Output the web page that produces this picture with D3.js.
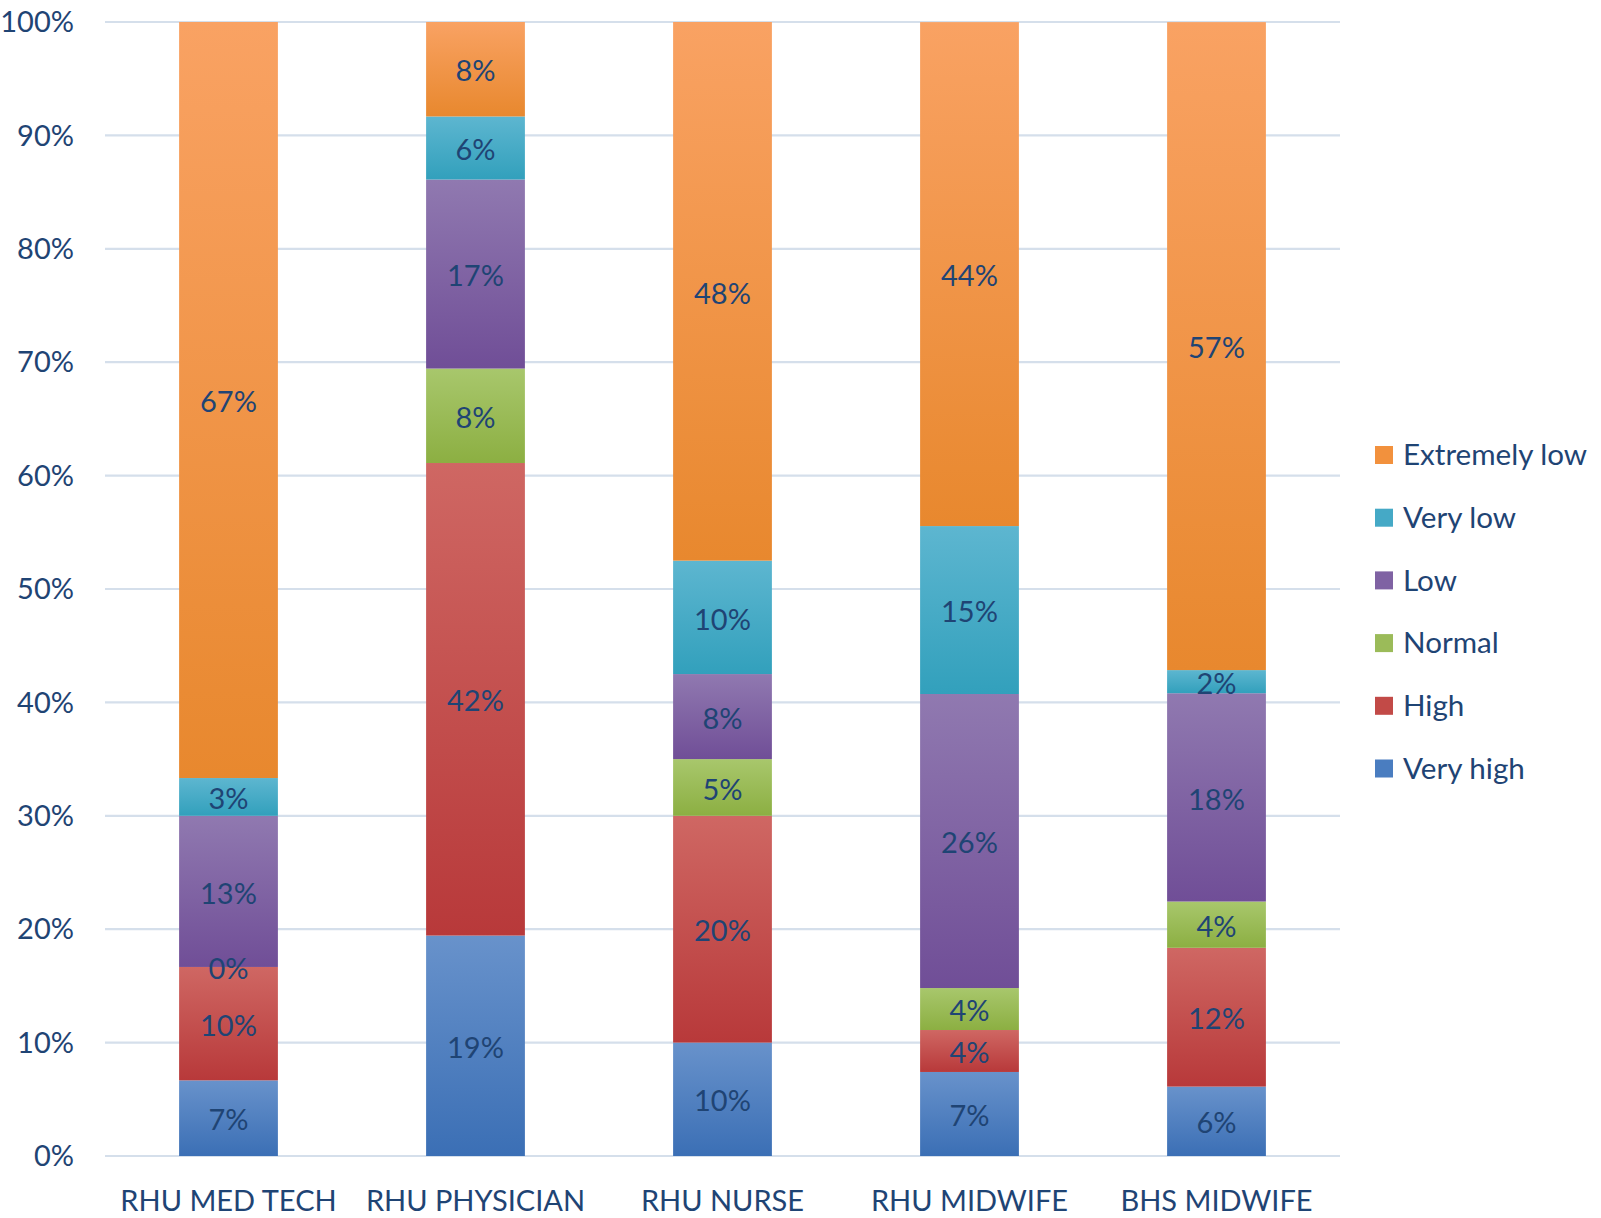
<!DOCTYPE html>
<html><head><meta charset="utf-8">
<script src="https://cdn.jsdelivr.net/npm/d3@7"></script>
<style>
html,body{margin:0;padding:0;background:#fff;}
svg{display:block;}
text{font-family:Lato,"Open Sans",sans-serif;fill:#1F4474;}
</style></head>
<body>
<script>
const categories = ["RHU MED TECH","RHU PHYSICIAN","RHU NURSE","RHU MIDWIFE","BHS MIDWIFE"];
const seriesNames = ["Very high","High","Normal","Low","Very low","Extremely low"];
const veryHigh = [6.67, 19.44, 10.0, 7.41, 6.12];
const high = [10.0, 41.67, 20.0, 3.70, 12.24];
const normal = [0.0, 8.33, 5.0, 3.70, 4.08];
const low = [13.33, 16.67, 7.5, 25.93, 18.37];
const veryLow = [3.33, 5.56, 10.0, 14.81, 2.04];
const extremelyLow = [66.67, 8.33, 47.5, 44.44, 57.14];
const yTicks = [0,10,20,30,40,50,60,70,80,90,100];

const seriesValues = [veryHigh, high, normal, low, veryLow, extremelyLow];
const colors = {
  "Very high":["#6892CB","#3B6FB5"],
  "High":["#CF6763","#B8393A"],
  "Normal":["#A8C76C","#8CAF42"],
  "Low":["#9079B0","#704E97"],
  "Very low":["#5DB6D0","#32A0BC"],
  "Extremely low":["#F9A263","#E8882E"]
};
const legendColors = {
  "Very high":"#4A7DC0","High":"#C24A47","Normal":"#9BBB59","Low":"#7F62A3","Very low":"#45A9C6","Extremely low":"#F2913D"
};

const W=1601,H=1218;
const svg=d3.select("body").append("svg").attr("width",W).attr("height",H);
const defs=svg.append("defs");
seriesNames.forEach((s,i)=>{
  const g=defs.append("linearGradient").attr("id","g"+i).attr("x1",0).attr("y1",0).attr("x2",0).attr("y2",1);
  g.append("stop").attr("offset","0%").attr("stop-color",colors[s][0]);
  g.append("stop").attr("offset","100%").attr("stop-color",colors[s][1]);
});

const x=d3.scaleBand().domain(categories).range([105,1340]).paddingInner(0.6).paddingOuter(0.3);
const y=d3.scaleLinear().domain([0,100]).range([1156,22]);

// gridlines
svg.append("g").selectAll("line").data(yTicks).join("line")
  .attr("x1",105).attr("x2",1340).attr("y1",d=>y(d)).attr("y2",d=>y(d))
  .attr("stroke","#D5DFEB").attr("stroke-width",2.2);

// y labels
svg.append("g").selectAll("text").data(yTicks).join("text")
  .attr("x",74).attr("y",d=>y(d)).attr("dy","0.35em").attr("text-anchor","end")
  .attr("font-size",29).text(d=>d+"%");

// stack
const table=categories.map((c,ci)=>{const o={cat:c};seriesNames.forEach((s,si)=>o[s]=seriesValues[si][ci]);return o;});
const stack=d3.stack().keys(seriesNames)(table);
const gBars=svg.append("g");
stack.forEach((layer,li)=>{
  const g=gBars.append("g");
  g.selectAll("rect").data(layer).join("rect")
    .attr("x",d=>x(d.data.cat)).attr("width",x.bandwidth())
    .attr("y",d=>y(d[1])).attr("height",d=>y(d[0])-y(d[1]))
    .attr("fill","url(#g"+li+")");
});
stack.forEach((layer,li)=>{
  gBars.append("g").selectAll("text").data(layer).join("text")
    .attr("x",d=>x(d.data.cat)+x.bandwidth()/2)
    .attr("y",d=>(y(d[0])+y(d[1]))/2).attr("dy","0.42em")
    .attr("text-anchor","middle").attr("font-size",29)
    .text(d=>Math.round(d[1]-d[0])+"%");
});

// x labels
svg.append("g").selectAll("text").data(categories).join("text")
  .attr("x",d=>x(d)+x.bandwidth()/2).attr("y",1201).attr("dy","0.35em")
  .attr("text-anchor","middle").attr("font-size",29).text(d=>d);

// legend
const legendOrder=seriesNames.slice().reverse();
const lg=svg.append("g").selectAll("g").data(legendOrder).join("g")
  .attr("transform",(d,i)=>`translate(1375,${455+i*62.7})`);
lg.append("rect").attr("x",0).attr("y",-9).attr("width",18).attr("height",18).attr("fill",d=>legendColors[d]);
lg.append("text").attr("x",28).attr("y",0).attr("dy","0.35em").attr("font-size",29.6).text(d=>d);
</script>
</body></html>
